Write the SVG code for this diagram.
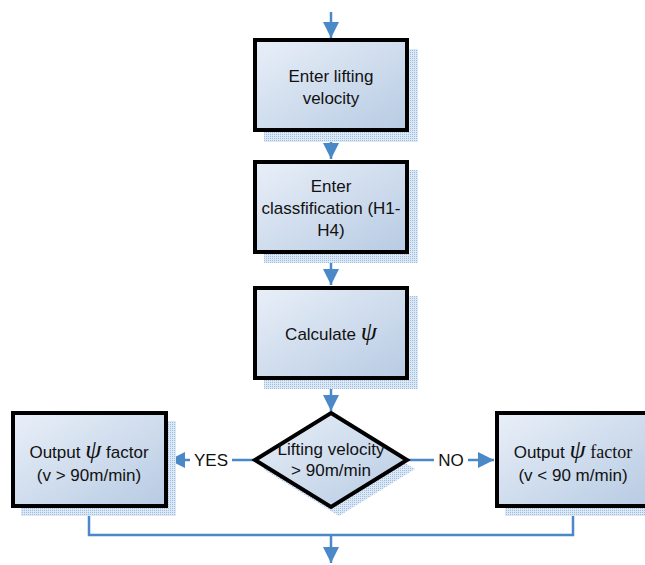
<svg xmlns="http://www.w3.org/2000/svg" width="645" height="565" viewBox="0 0 645 565">
<defs>
<linearGradient id="fill" x1="0" y1="0" x2="1" y2="1">
<stop offset="0" stop-color="#e9eff8"/>
<stop offset="1" stop-color="#b7cbe3"/>
</linearGradient>
<pattern id="dots" width="2" height="2" patternUnits="userSpaceOnUse">
<rect width="2" height="2" fill="#dde8f5"/>
<rect width="1" height="1" fill="#9dbde2"/>
</pattern>
<marker id="arrB" viewBox="0 0 16 16" markerWidth="16" markerHeight="16" refX="16" refY="8" orient="auto" markerUnits="userSpaceOnUse">
<path d="M0,0 L16,8 L0,16 z" fill="#4a88c7"/>
</marker>
</defs>
<style>
.box{fill:url(#fill);stroke:#000;stroke-width:4;}
.shadow{fill:url(#dots);}
.t{font-family:"Liberation Sans",Arial,sans-serif;font-size:17px;fill:#111;text-anchor:middle;}
.psi{font-family:"Liberation Serif","DejaVu Serif",serif;font-style:italic;font-size:26px;}
.ser{font-family:"Liberation Serif","DejaVu Serif",serif;font-size:18px;}
.c{fill:none;stroke:#4a88c7;stroke-width:2.5;}
</style>
<g id="connectors">
<line class="c" x1="331" y1="12" x2="331" y2="38" marker-end="url(#arrB)"/>
<line class="c" x1="331" y1="131" x2="331" y2="159" marker-end="url(#arrB)"/>
<line class="c" x1="331" y1="253" x2="331" y2="285" marker-end="url(#arrB)"/>
<line class="c" x1="331" y1="380" x2="331" y2="411" marker-end="url(#arrB)"/>
<polyline class="c" points="255,460 232,460"/>
<line class="c" x1="190" y1="460" x2="169" y2="460" marker-end="url(#arrB)"/>
<polyline class="c" points="407,460 434,460"/>
<line class="c" x1="468" y1="460" x2="494" y2="460" marker-end="url(#arrB)"/>
<polyline class="c" points="89,507 89,535 573,535 573,507"/>
<line class="c" x1="331" y1="535" x2="331" y2="563" marker-end="url(#arrB)"/>
<text class="t" x="211" y="466">YES</text>
<text class="t" x="451" y="466">NO</text>
</g>
<g id="n1">
<rect class="shadow" x="264" y="49" width="154" height="93"/>
<rect class="box" x="255" y="40" width="152" height="90"/>
<text class="t" x="331" y="82">Enter lifting</text>
<text class="t" x="331" y="104">velocity</text>
</g>
<g id="n2">
<rect class="shadow" x="264" y="170" width="154" height="93"/>
<rect class="box" x="255" y="162" width="152" height="90"/>
<text class="t" x="331" y="192">Enter</text>
<text class="t" x="331" y="214">classfification (H1-</text>
<text class="t" x="331" y="236">H4)</text>
</g>
<g id="n3">
<rect class="shadow" x="264" y="296" width="154" height="93"/>
<rect class="box" x="255" y="288" width="152" height="90"/>
<text class="t" x="331" y="340">Calculate <tspan class="psi">ψ</tspan></text>
</g>
<g id="n4">
<polygon class="shadow" points="339,423 415,469 339,516 263,469"/>
<polygon class="box" points="331,413 407,460 331,507 255,460"/>
<text class="t" x="331" y="455">Lifting velocity</text>
<text class="t" x="331" y="476">&gt; 90m/min</text>
</g>
<g id="n5">
<rect class="shadow" x="21" y="421" width="155" height="95"/>
<rect class="box" x="13" y="413" width="153" height="93"/>
<text class="t" x="89" y="458">Output <tspan class="psi">ψ</tspan> factor</text>
<text class="t" x="89" y="481">(v &gt; 90m/min)</text>
</g>
<g id="n6">
<rect class="shadow" x="505" y="421" width="155" height="95"/>
<rect class="box" x="497" y="413" width="153" height="93"/>
<text class="t" x="573" y="458">Output <tspan class="psi">ψ</tspan> <tspan class="ser">factor</tspan></text>
<text class="t" x="573" y="481">(v &lt; 90 m/min)</text>
</g>
</svg>
